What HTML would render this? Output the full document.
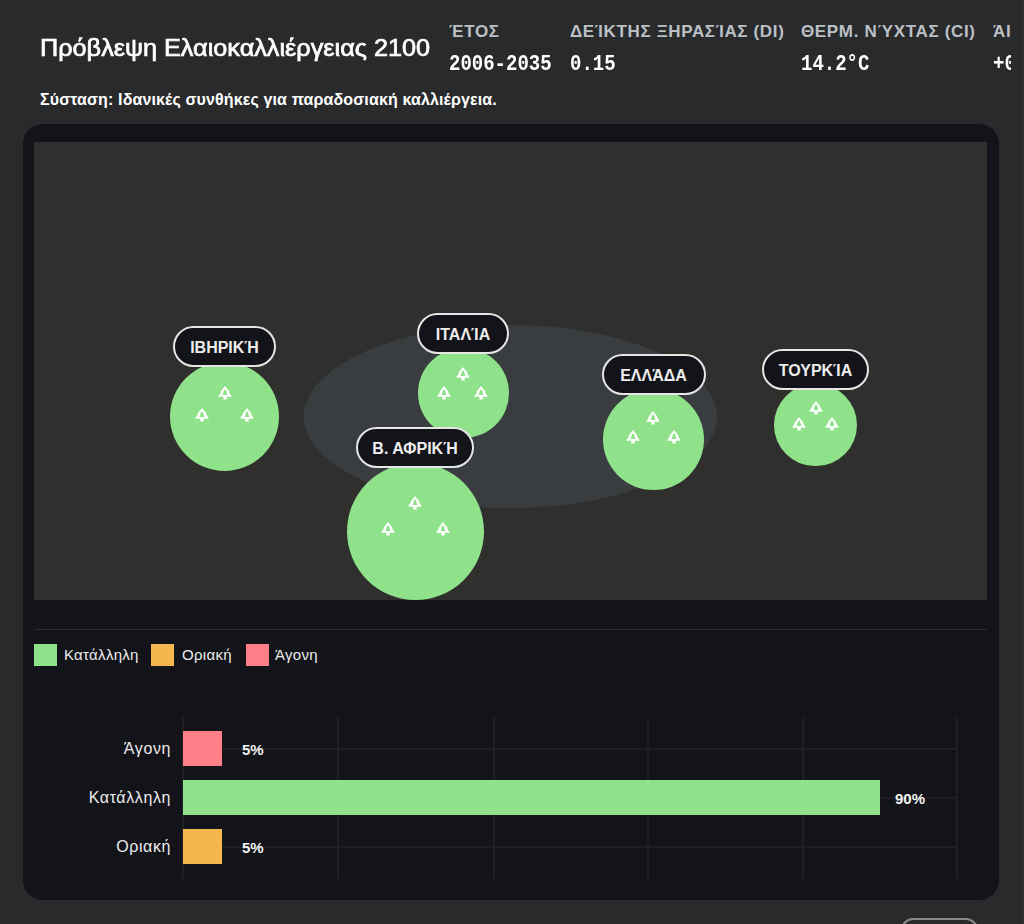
<!DOCTYPE html>
<html><head><meta charset="utf-8">
<style>
*{box-sizing:border-box;margin:0;padding:0}
html,body{width:1024px;height:924px;overflow:hidden;background:#292a2c;font-family:"Liberation Sans",sans-serif;color:#fff}
.abs{position:absolute}
#title{left:40px;top:32px;font-size:24.5px;line-height:32px;letter-spacing:0px;-webkit-text-stroke:0.7px #fff;transform:scaleX(1.03);transform-origin:0 0;white-space:nowrap}
#sub{left:40px;top:90px;font-size:16px;line-height:20px;font-weight:700;letter-spacing:0.13px;white-space:nowrap}
.lab{font-size:17px;line-height:20px;font-weight:700;letter-spacing:0.65px;color:#bcc0c5;white-space:nowrap;top:22px}
.val{font-family:"Liberation Mono",monospace;font-size:19px;line-height:22px;font-weight:700;white-space:nowrap;top:52px;transform:scaleY(1.12);transform-origin:0 0}
#clip{left:0;top:0;width:1011px;height:90px;overflow:hidden}
#panel{left:23px;top:124px;width:976px;height:776px;border-radius:20px;background:#131419}
#map{left:34px;top:142px;width:953px;height:458px;background:#2f2f2d;overflow:hidden}
.ell{left:270px;top:182.5px;width:413px;height:183px;border-radius:50%;background:#3a3d40}
.circ{border-radius:50%;background:#8fe28a}
.tree{position:absolute;width:16px;height:16px;filter:blur(0.5px)}
.pill{position:absolute;height:41px;border:2px solid #e6e6e6;border-radius:21px;background:#131419;font-size:16px;font-weight:700;line-height:39px;text-align:center;white-space:nowrap;color:#ededed}
#sep{left:34px;top:629px;width:953px;height:1px;background:#292c32}
.sw{width:22.5px;height:22px;top:644px}
.lg{top:646px;font-size:15px;line-height:18px;letter-spacing:0.3px;color:#ececec;white-space:nowrap}
.gv{width:2px;top:717px;height:162px;background:#1e1f23}
.gh{height:2px;left:183px;width:775px;background:#1e1f23}
.bar{left:183px;height:35px}
.yl{font-size:16px;line-height:18px;letter-spacing:0.6px;color:#ececec;text-align:right;width:142px;left:29px;white-space:nowrap}
.pct{font-size:15px;line-height:18px;font-weight:700;color:#f4f4f4;white-space:nowrap}
#edge{left:1022px;top:0;width:2px;height:924px;background:linear-gradient(90deg,#2d2e30,#343537)}
#btn{left:901px;top:918px;width:77px;height:40px;border:2px solid #8a8a8a;border-radius:12px}
</style></head><body>
<svg width="0" height="0" style="position:absolute"><defs><g id="tp"><path fill="#fff" stroke="none" d="M8 1.0 L12.7 7.0 L12.0 7.3 L14.6 10.9 L14.6 11.8 L9.7 11.8 L9.7 14.5 L6.3 14.5 L6.3 11.8 L1.4 11.8 L1.4 10.9 L4.0 7.3 L3.3 7.0 Z"/><path fill="#8fe28a" stroke="none" d="M8 4.2 L9.3 5.8 L9.5 7.3 L10.6 10.0 L5.4 10.0 L6.5 7.3 L6.7 5.8 Z"/></g></defs></svg>
<div class="abs" id="title">Πρόβλεψη Ελαιοκαλλιέργειας 2100</div>
<div class="abs" id="sub">Σύσταση: Ιδανικές συνθήκες για παραδοσιακή καλλιέργεια.</div>
<div class="abs" id="clip">
  <div class="abs lab" style="left:449px">ΈΤΟΣ</div>
  <div class="abs val" style="left:449px">2006-2035</div>
  <div class="abs lab" style="left:570px">ΔΕΊΚΤΗΣ ΞΗΡΑΣΊΑΣ (DI)</div>
  <div class="abs val" style="left:570px">0.15</div>
  <div class="abs lab" style="left:801px">ΘΕΡΜ. ΝΎΧΤΑΣ (CI)</div>
  <div class="abs val" style="left:801px">14.2°C</div>
  <div class="abs lab" style="left:993px">ΆΙ</div>
  <div class="abs val" style="left:993px">+0.8°C</div>
</div>

<div class="abs" id="panel"></div>
<div class="abs" id="map">
  <div class="abs ell"></div>
  <!-- circles: cx,cy relative to map -->
  <div class="abs circ" style="left:135.7px;top:219.6px;width:109.4px;height:109.4px"></div>
  <div class="abs circ" style="left:383.9px;top:205.5px;width:90.9px;height:90.9px"></div>
  <div class="abs circ" style="left:313px;top:320.5px;width:137px;height:137px"></div>
  <div class="abs circ" style="left:569px;top:246.6px;width:101px;height:101px"></div>
  <div class="abs circ" style="left:740.2px;top:241.9px;width:82.6px;height:82.6px"></div>
  <svg class="tree" style="left:183.0px;top:243.0px" viewBox="0 0 16 16"><use href="#tp"/></svg>
  <svg class="tree" style="left:160.4px;top:265.0px" viewBox="0 0 16 16"><use href="#tp"/></svg>
  <svg class="tree" style="left:204.9px;top:265.0px" viewBox="0 0 16 16"><use href="#tp"/></svg>
  <svg class="tree" style="left:421.2px;top:223.6px" viewBox="0 0 16 16"><use href="#tp"/></svg>
  <svg class="tree" style="left:402.4px;top:242.7px" viewBox="0 0 16 16"><use href="#tp"/></svg>
  <svg class="tree" style="left:439.4px;top:242.7px" viewBox="0 0 16 16"><use href="#tp"/></svg>
  <svg class="tree" style="left:373.1px;top:352.5px" viewBox="0 0 16 16"><use href="#tp"/></svg>
  <svg class="tree" style="left:345.7px;top:379.2px" viewBox="0 0 16 16"><use href="#tp"/></svg>
  <svg class="tree" style="left:400.5px;top:379.2px" viewBox="0 0 16 16"><use href="#tp"/></svg>
  <svg class="tree" style="left:611.4px;top:268.0px" viewBox="0 0 16 16"><use href="#tp"/></svg>
  <svg class="tree" style="left:591.3px;top:287.3px" viewBox="0 0 16 16"><use href="#tp"/></svg>
  <svg class="tree" style="left:631.6px;top:287.3px" viewBox="0 0 16 16"><use href="#tp"/></svg>
  <svg class="tree" style="left:773.5px;top:257.9px" viewBox="0 0 16 16"><use href="#tp"/></svg>
  <svg class="tree" style="left:756.8px;top:274.0px" viewBox="0 0 16 16"><use href="#tp"/></svg>
  <svg class="tree" style="left:789.8px;top:274.0px" viewBox="0 0 16 16"><use href="#tp"/></svg>
  <div class="pill" style="left:139px;top:184px;width:103px">ΙΒΗΡΙΚΉ</div>
  <div class="pill" style="left:383px;top:170.6px;width:92px">ΙΤΑΛΊΑ</div>
  <div class="pill" style="left:322px;top:285px;width:118px">Β. ΑΦΡΙΚΉ</div>
  <div class="pill" style="left:567.5px;top:212.2px;width:104px">ΕΛΛΆΔΑ</div>
  <div class="pill" style="left:728px;top:207.4px;width:107px">ΤΟΥΡΚΊΑ</div>
</div>

<div class="abs" id="sep"></div>
<div class="abs sw" style="left:34px;background:#8fe28a"></div>
<div class="abs lg" style="left:64px">Κατάλληλη</div>
<div class="abs sw" style="left:151px;background:#f5b64e"></div>
<div class="abs lg" style="left:182px">Οριακή</div>
<div class="abs sw" style="left:246px;background:#fe7f88"></div>
<div class="abs lg" style="left:275px">Άγονη</div>

<div class="abs gv" style="left:182px"></div>
<div class="abs gv" style="left:337px"></div>
<div class="abs gv" style="left:493px"></div>
<div class="abs gv" style="left:647px"></div>
<div class="abs gv" style="left:802px"></div>
<div class="abs gv" style="left:956px"></div>
<div class="abs gh" style="top:748px"></div>
<div class="abs gh" style="top:797px"></div>
<div class="abs gh" style="top:846px"></div>
<div class="abs bar" style="top:731px;width:39px;background:#fe7f88"></div>
<div class="abs bar" style="top:780px;width:697px;background:#8fe28a"></div>
<div class="abs bar" style="top:829px;width:39px;background:#f5b64e"></div>
<div class="abs yl" style="top:740px">Άγονη</div>
<div class="abs yl" style="top:789px">Κατάλληλη</div>
<div class="abs yl" style="top:838px">Οριακή</div>
<div class="abs pct" style="left:242px;top:741px">5%</div>
<div class="abs pct" style="left:895px;top:790px">90%</div>
<div class="abs pct" style="left:242px;top:839px">5%</div>

<div class="abs" id="btn"></div>
<div class="abs" id="edge"></div>
</body></html>
